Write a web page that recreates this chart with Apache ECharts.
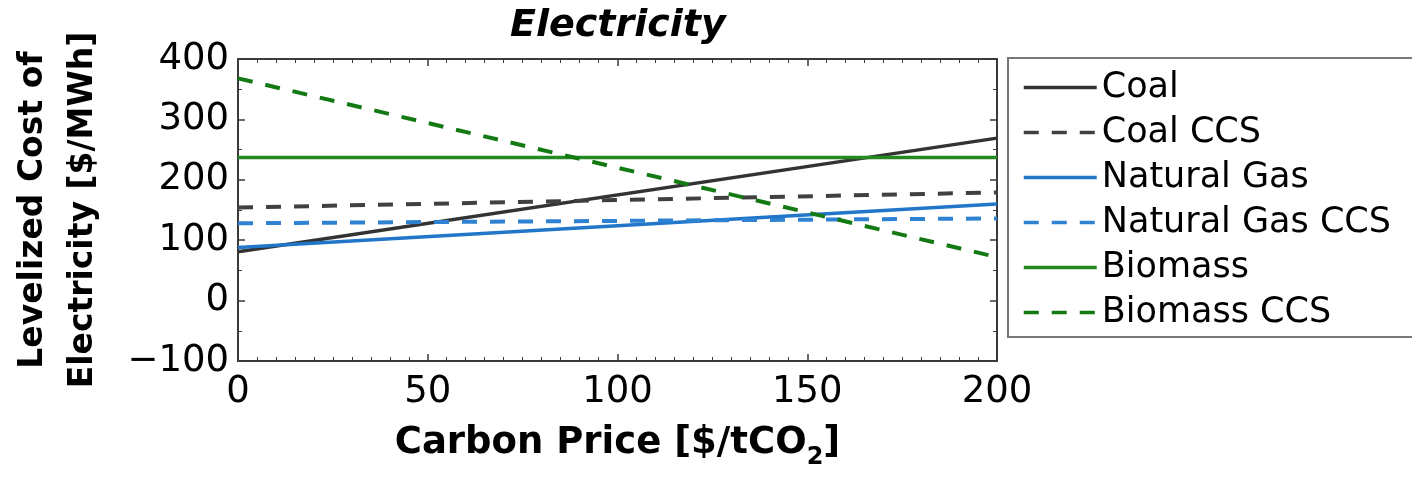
<!DOCTYPE html>
<html>
<head>
<meta charset="utf-8">
<script src="https://cdn.jsdelivr.net/npm/echarts@6/dist/echarts.min.js"></script>
<style>
  html, body { margin: 0; padding: 0; background: #fff; }
  #chart { width: 1412px; height: 477px; }
</style>
</head>
<body>
<div id="chart"></div>
<script>
// carbon price on x, levelized cost on y (straight lines, end points)
var carbonPrice = [0, 200];
var coal = [81, 269];
var coalCCS = [154, 179];
var naturalGas = [88, 160];
var naturalGasCCS = [128, 136];
var biomass = [237, 237];
var biomassCCS = [368, 72];

var seriesNames = ['Coal', 'Coal CCS', 'Natural Gas', 'Natural Gas CCS', 'Biomass', 'Biomass CCS'];
var xTicks = [0, 50, 100, 150, 200];
var yTicks = [-100, 0, 100, 200, 300, 400];

var FONT = 'DejaVu Sans';
var AXIS_COLOR = '#3a3a3a';

function pairs(ys) {
  return carbonPrice.map(function (x, i) { return [x, ys[i]]; });
}

function mkLine(name, ys, color, type, width) {
  return {
    name: name,
    type: 'line',
    data: pairs(ys),
    symbol: 'none',
    showSymbol: false,
    animation: false,
    lineStyle: { color: color, width: width, type: type },
    itemStyle: { color: color }
  };
}

var frameX = {
  type: 'value',
  min: xTicks[0],
  max: xTicks[xTicks.length - 1],
  interval: 50,
  axisLine: { show: true, onZero: false, lineStyle: { color: AXIS_COLOR, width: 2 } },
  axisTick: { show: true, inside: true, length: 7, lineStyle: { color: AXIS_COLOR, width: 1.5 } },
  minorTick: { show: true, splitNumber: 10, length: 4, lineStyle: { color: AXIS_COLOR, width: 1 } },
  splitLine: { show: false }
};

var frameY = {
  type: 'value',
  min: yTicks[0],
  max: yTicks[yTicks.length - 1],
  interval: 100,
  axisLine: { show: true, onZero: false, lineStyle: { color: AXIS_COLOR, width: 2 } },
  axisTick: { show: true, inside: true, length: 7, lineStyle: { color: AXIS_COLOR, width: 1.5 } },
  minorTick: { show: true, splitNumber: 2, length: 4, lineStyle: { color: AXIS_COLOR, width: 1 } },
  splitLine: { show: false }
};

var option = {
  backgroundColor: '#fff',
  animation: false,
  title: {
    text: 'Electricity',
    left: 510,
    top: 7,
    padding: 0,
    textStyle: { fontFamily: FONT, fontSize: 38, fontWeight: 'bold', fontStyle: 'italic', color: '#000' }
  },
  grid: { left: 233, right: 415, top: 59, bottom: 116, containLabel: false },
  legend: {
    data: seriesNames,
    orient: 'vertical',
    left: 1008,
    top: 58,
    padding: [7, 40, 2, 14],
    itemGap: 0,
    itemWidth: 73,
    itemHeight: 14,
    borderColor: '#777',
    borderWidth: 2,
    borderRadius: 0,
    backgroundColor: '#fff',
    itemStyle: { opacity: 0 },
    lineStyle: { width: 3.5 },
    textStyle: { fontFamily: FONT, fontSize: 35, color: '#000', lineHeight: 45 }
  },
  xAxis: [
    Object.assign({}, frameX, {
      position: 'bottom',
      name: '{a|Carbon Price [$/tCO}{s|2}{a|]}',
      nameLocation: 'middle',
      nameGap: 55,
      nameTextStyle: {
        rich: {
          a: { fontFamily: FONT, fontSize: 37, fontWeight: 'bold', color: '#000', lineHeight: 54 },
          s: { fontFamily: FONT, fontSize: 24, fontWeight: 'bold', color: '#000', lineHeight: 2, verticalAlign: 'bottom' }
        }
      },
      axisLabel: { show: true, margin: 13, fontFamily: FONT, fontSize: 37, color: '#000' }
    }),
    Object.assign({}, frameX, {
      position: 'top',
      axisLabel: { show: false }
    })
  ],
  yAxis: [
    Object.assign({}, frameY, {
      position: 'left',
      name: 'Levelized Cost of\nElectricity [$/MWh]',
      nameLocation: 'middle',
      nameRotate: 90,
      nameGap: 130,
      nameTextStyle: { fontFamily: FONT, fontSize: 33, fontWeight: 'bold', color: '#000', lineHeight: 50 },
      axisLabel: {
        show: true,
        margin: 9,
        fontFamily: FONT,
        fontSize: 37,
        color: '#000',
        formatter: function (v) { return String(v).replace('-', '\u2212'); }
      }
    }),
    Object.assign({}, frameY, {
      position: 'right',
      axisLabel: { show: false }
    })
  ],
  series: [
    mkLine(seriesNames[0], coal, '#333333', 'solid', 3.5),
    mkLine(seriesNames[1], coalCCS, '#404040', [15, 13], 4),
    mkLine(seriesNames[2], naturalGas, '#2176c9', 'solid', 3.5),
    mkLine(seriesNames[3], naturalGasCCS, '#2f82d2', [15, 13], 4),
    mkLine(seriesNames[4], biomass, '#238a23', 'solid', 3.5),
    mkLine(seriesNames[5], biomassCCS, '#137a13', [15, 13], 4)
  ]
};

var chart = echarts.init(document.getElementById('chart'), null, { renderer: 'canvas' });
chart.setOption(option);
</script>
</body>
</html>
